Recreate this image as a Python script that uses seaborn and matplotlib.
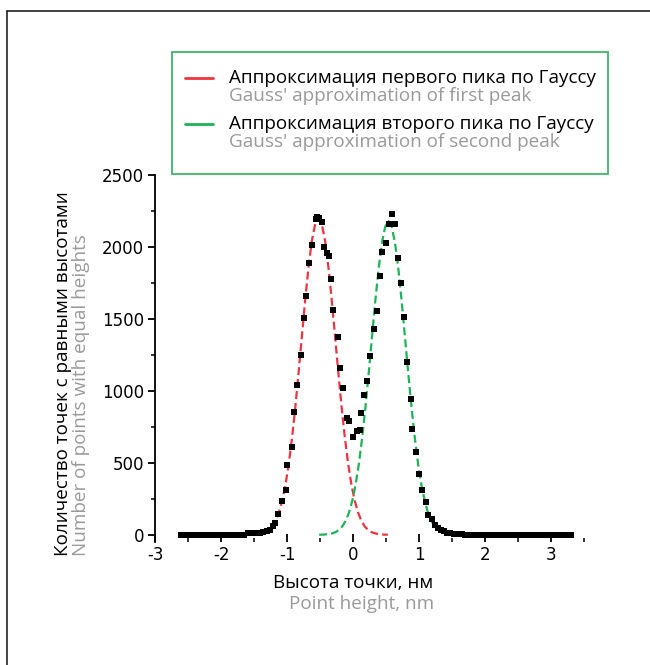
import matplotlib
matplotlib.use("Agg")
import matplotlib.pyplot as plt
from matplotlib.lines import Line2D
from matplotlib.patches import Rectangle
from matplotlib.ticker import MultipleLocator
import seaborn as sns
import pandas as pd

# measured histogram (bin centre in nm, count)
hist_x = [-2.60, -2.55, -2.50, -2.45, -2.40, -2.35, -2.30, -2.25, -2.20, -2.15,
          -2.10, -2.05, -2.00, -1.95, -1.90, -1.85, -1.80, -1.75, -1.70, -1.65,
          -1.59, -1.52, -1.46, -1.41, -1.36, -1.31, -1.26, -1.22, -1.18, -1.14,
          -1.07, -1.02, -0.995, -0.93, -0.90, -0.853, -0.79, -0.75, -0.71, -0.67,
          -0.62, -0.565, -0.54, -0.51, -0.47, -0.44, -0.40, -0.37, -0.34, -0.30,
          -0.23, -0.197, -0.156, -0.096, -0.056, 0.005, 0.056, 0.106, 0.116, 0.167,
          0.217, 0.258, 0.318, 0.359, 0.40, 0.434, 0.495, 0.55, 0.586, 0.636,
          0.672, 0.727, 0.763, 0.813, 0.874, 0.894, 0.955, 1.00, 1.05, 1.10,
          1.14, 1.19, 1.24, 1.29, 1.33, 1.37, 1.42, 1.47, 1.53, 1.60,
          1.65, 1.70, 1.75, 1.80, 1.85, 1.90, 1.95, 2.00, 2.05, 2.10,
          2.15, 2.20, 2.25, 2.30, 2.35, 2.40, 2.45, 2.50, 2.55, 2.60,
          2.65, 2.70, 2.75, 2.80, 2.85, 2.90, 2.95, 3.00, 3.05, 3.10,
          3.15, 3.20, 3.25, 3.30]
hist_y = [0, 0, 0, 0, 0, 0, 0, 0, 0, 0,
          0, 0, 0, 0, 0, 0, 0, 0, 1, 2,
          16, 10, 12, 15, 19, 28, 35, 60, 81, 146,
          238, 312, 486, 609, 856, 1042, 1250, 1509, 1660, 1891,
          2014, 2192, 2205, 2199, 2176, 1998, 1960, 1937, 1775, 1562,
          1377, 1157, 1019, 810, 794, 678, 718, 729, 849, 972,
          1072, 1243, 1428, 1558, 1800, 1968, 2030, 2160, 2229, 2160,
          1921, 1748, 1512, 1199, 942, 734, 574, 424, 308, 231,
          139, 109, 69, 46, 30, 23, 15, 12, 8, 5,
          3, 2, 1, 1, 0, 0, 0, 0, 0, 0,
          0, 0, 0, 0, 0, 0, 0, 0, 0, 0,
          0, 0, 0, 0, 0, 0, 0, 0, 0, 0,
          0, 0, 0, 0]

# first peak approximation
fit1_x = [-1.575, -1.525, -1.475, -1.425, -1.375, -1.325, -1.275, -1.225, -1.175, -1.125,
          -1.075, -1.025, -0.975, -0.925, -0.875, -0.825, -0.775, -0.725, -0.675, -0.625,
          -0.575, -0.525, -0.475, -0.425, -0.375, -0.325, -0.275, -0.225, -0.175, -0.125,
          -0.075, -0.025, 0.025, 0.075, 0.125, 0.175, 0.225, 0.275, 0.325, 0.375,
          0.425, 0.475, 0.525]
fit1_y = [1, 1, 3, 6, 11, 19, 34, 59, 97, 154,
          235, 346, 492, 674, 889, 1131, 1386, 1637, 1863, 2043,
          2160, 2200, 2160, 2043, 1863, 1637, 1386, 1131, 889, 674,
          492, 346, 235, 154, 97, 59, 34, 19, 11, 6,
          3, 1, 1]

# second peak approximation
fit2_x = [-0.515, -0.465, -0.415, -0.365, -0.315, -0.265, -0.215, -0.165, -0.115, -0.065,
          -0.015, 0.035, 0.085, 0.135, 0.185, 0.235, 0.285, 0.335, 0.385, 0.435,
          0.485, 0.535, 0.585, 0.635, 0.685, 0.735, 0.785, 0.835, 0.885, 0.935,
          0.985, 1.035, 1.085, 1.135, 1.185, 1.235, 1.285, 1.335, 1.385, 1.435,
          1.485, 1.535, 1.585]
fit2_y = [1, 1, 3, 5, 10, 19, 34, 58, 96, 152,
          233, 343, 487, 668, 881, 1120, 1373, 1622, 1846, 2025,
          2140, 2180, 2140, 2025, 1846, 1622, 1373, 1120, 881, 668,
          487, 343, 233, 152, 96, 58, 34, 19, 10, 5,
          3, 1, 1]

legend_ru = ["Аппроксимация первого пика по Гауссу", "Аппроксимация второго пика по Гауссу"]
legend_en = ["Gauss' approximation of first peak", "Gauss' approximation of second peak"]
xlabel_ru, xlabel_en = "Высота точки, нм", "Point height, nm"
ylabel_ru, ylabel_en = "Количество точек с равными высотами", "Number of points with equal heights"

RED = "#ef3340"
GREEN = "#1db457"
GREY = "#9a9a9a"

sns.set_style("ticks")
plt.rcParams['font.family'] = ['DejaVu Sans']
TXT = ['Open Sans', 'DejaVu Sans']
FS = 13.6

fig = plt.figure(figsize=(6.5, 6.65), dpi=100)
W, H = 650, 665
ax = fig.add_axes([155 / W, 1 - 542 / H, (584.3 - 155) / W, (542 - 175) / H])

df1 = pd.DataFrame({"x": fit1_x, "y": fit1_y})
df2 = pd.DataFrame({"x": fit2_x, "y": fit2_y})
dfh = pd.DataFrame({"x": hist_x, "y": hist_y})

sns.lineplot(data=df1, x="x", y="y", ax=ax, color=RED, lw=1.6,
             linestyle=(0, (3.6, 1.8)), sort=False, zorder=2)
sns.lineplot(data=df2, x="x", y="y", ax=ax, color=GREEN, lw=1.6,
             linestyle=(0, (3.6, 1.8)), sort=False, zorder=2)
sns.scatterplot(data=dfh, x="x", y="y", ax=ax, marker="s", s=20, color="black",
                linewidth=0, zorder=3)

ax.set_xlim(-3, 3.5)
ax.set_ylim(-50, 2500)
ax.xaxis.set_major_locator(MultipleLocator(1))
ax.xaxis.set_minor_locator(MultipleLocator(0.5))
ax.yaxis.set_major_locator(MultipleLocator(500))
ax.yaxis.set_minor_locator(MultipleLocator(250))
ax.set_xticks([-3, -2, -1, 0, 1, 2, 3])
ax.set_xticklabels(["-3", "-2", "-1", "0", "1", "2", "3"])
ax.set_xlabel("")
ax.set_ylabel("")

for s in ["top", "right", "bottom"]:
    ax.spines[s].set_visible(False)
ax.spines["left"].set_linewidth(1.3)
ax.spines["left"].set_color("black")
ax.tick_params(axis="y", which="major", direction="out", length=5, width=1.3,
               labelsize=12, colors="black", pad=3)
ax.tick_params(axis="y", which="minor", direction="out", length=3, width=1.3)
ax.tick_params(axis="x", which="major", direction="in", length=6, width=1.3,
               labelsize=12, colors="black", pad=3)
ax.tick_params(axis="x", which="minor", direction="in", length=3, width=1.3)
ax.patch.set_alpha(0)

# axis titles (two lines, two colours)
fig.text(63 / W, 1 - 556 / H, ylabel_ru, rotation=90, rotation_mode="anchor",
         ha="left", va="center", fontsize=FS, color="black", family=TXT)
fig.text(81 / W, 1 - 556 / H, ylabel_en, rotation=90, rotation_mode="anchor",
         ha="left", va="center", fontsize=FS, color=GREY, family=TXT)
fig.text(353 / W, 1 - 583 / H, xlabel_ru, ha="center", va="center",
         fontsize=FS, color="black", family=TXT)
fig.text(362 / W, 1 - 604 / H, xlabel_en, ha="center", va="center",
         fontsize=FS, color=GREY, family=TXT)

# legend box
fig.patches.append(Rectangle((172 / W, 1 - 174 / H), (608 - 172) / W, (174 - 52) / H,
                             transform=fig.transFigure, fill=False,
                             edgecolor="#3cb66a", lw=1.3))
for i, c in enumerate([RED, GREEN]):
    yb = 78 + i * 46
    fig.lines.append(Line2D([185 / W, 213 / W], [1 - yb / H, 1 - yb / H],
                            transform=fig.transFigure, color=c, lw=2))
    fig.text(229 / W, 1 - yb / H, legend_ru[i], ha="left", va="center",
             fontsize=FS, color="black", family=TXT)
    fig.text(229 / W, 1 - (yb + 18) / H, legend_en[i], ha="left", va="center",
             fontsize=FS, color=GREY, family=TXT)

# page frame (top and left edges only)
fig.lines.append(Line2D([7 / W, 1], [1 - 11 / H, 1 - 11 / H],
                        transform=fig.transFigure, color="#222222", lw=1.2))
fig.lines.append(Line2D([7 / W, 7 / W], [0, 1 - 11 / H],
                        transform=fig.transFigure, color="#222222", lw=1.2))

fig.savefig("out.png", dpi=100)
